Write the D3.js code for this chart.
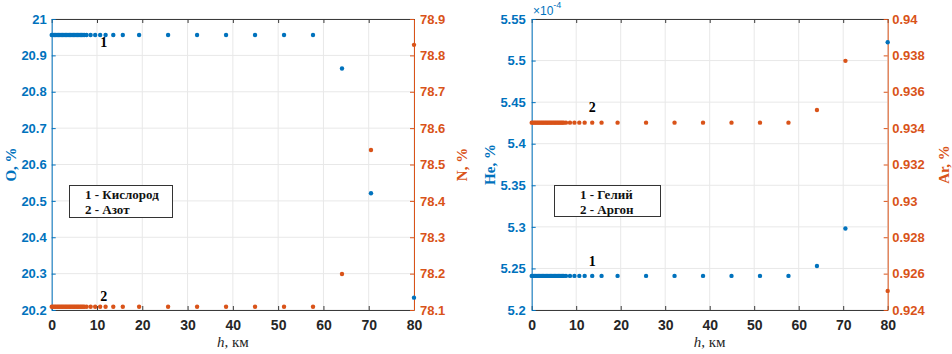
<!DOCTYPE html>
<html lang="ru">
<head>
<meta charset="UTF-8">
<title>Состав воздуха по высоте</title>
<script src="https://cdn.jsdelivr.net/npm/d3@7"></script>
<style>
  body { margin: 0; background: #fff; }
  svg { display: block; }
  .tick text { font-family: "Liberation Sans", Arial, sans-serif; font-size: 13px; font-weight: bold; }
  .serif { font-family: "Liberation Serif", "Times New Roman", serif; }
</style>
</head>
<body>
<script>
// heights, km (same grid for all four series)
const heights = [
  0, 0.3, 0.6, 0.9, 1.2, 1.5, 1.8, 2.1, 2.4, 2.7, 3.0, 3.3, 3.6,
  3.9, 4.2, 4.5, 4.8, 5.1, 5.4, 5.7, 6.0, 6.3, 6.6, 6.9, 7.2,
  7.7, 8.6, 9.6, 10.7, 11.9, 13.6, 15.7, 19.3, 25.7, 32.1, 38.5, 44.9, 51.3, 57.7,
  64.1, 70.5, 80
];
// O, %
const oxygen = [
  20.956, 20.956, 20.956, 20.956, 20.956, 20.956, 20.956, 20.956, 20.956, 20.956, 20.956, 20.956, 20.956,
  20.956, 20.956, 20.956, 20.956, 20.956, 20.956, 20.956, 20.956, 20.956, 20.956, 20.956, 20.956,
  20.956, 20.956, 20.956, 20.956, 20.956, 20.956, 20.956, 20.956, 20.956, 20.956, 20.956, 20.956, 20.956, 20.956,
  20.864, 20.521, 20.234
];
// N, %
const nitrogen = [
  78.109, 78.109, 78.109, 78.109, 78.109, 78.109, 78.109, 78.109, 78.109, 78.109, 78.109, 78.109, 78.109,
  78.109, 78.109, 78.109, 78.109, 78.109, 78.109, 78.109, 78.109, 78.109, 78.109, 78.109, 78.109,
  78.109, 78.109, 78.109, 78.109, 78.109, 78.109, 78.109, 78.109, 78.109, 78.109, 78.109, 78.109, 78.109, 78.109,
  78.199, 78.540, 78.829
];
// He, % (in units of 1e-4)
const helium = [
  5.241, 5.241, 5.241, 5.241, 5.241, 5.241, 5.241, 5.241, 5.241, 5.241, 5.241, 5.241, 5.241,
  5.241, 5.241, 5.241, 5.241, 5.241, 5.241, 5.241, 5.241, 5.241, 5.241, 5.241, 5.241,
  5.241, 5.241, 5.241, 5.241, 5.241, 5.241, 5.241, 5.241, 5.241, 5.241, 5.241, 5.241, 5.241, 5.241,
  5.253, 5.298, 5.522
];
// Ar, %
const argon = [
  0.9343, 0.9343, 0.9343, 0.9343, 0.9343, 0.9343, 0.9343, 0.9343, 0.9343, 0.9343, 0.9343, 0.9343, 0.9343,
  0.9343, 0.9343, 0.9343, 0.9343, 0.9343, 0.9343, 0.9343, 0.9343, 0.9343, 0.9343, 0.9343, 0.9343,
  0.9343, 0.9343, 0.9343, 0.9343, 0.9343, 0.9343, 0.9343, 0.9343, 0.9343, 0.9343, 0.9343, 0.9343, 0.9343, 0.9343,
  0.9350, 0.9377, 0.92505
];

// tick labels
const hTicks = [0, 10, 20, 30, 40, 50, 60, 70, 80];
const oTicks = [20.2, 20.3, 20.4, 20.5, 20.6, 20.7, 20.8, 20.9, 21];
const nTicks = [78.1, 78.2, 78.3, 78.4, 78.5, 78.6, 78.7, 78.8, 78.9];
const heTicks = [5.2, 5.25, 5.3, 5.35, 5.4, 5.45, 5.5, 5.55];
const arTicks = [0.924, 0.926, 0.928, 0.93, 0.932, 0.934, 0.936, 0.938, 0.94];

const legendO = ["1 - Кислород", "2 - Азот"];
const legendHe = ["1 - Гелий", "2 - Аргон"];

const blue = "#0072BD", orange = "#D95319", axisCol = "#3a3a3a", gridCol = "#e8e8e8";
const plotTop = 19, plotBottom = 310;

const svg = d3.select("body").append("svg").attr("width", 952).attr("height", 354);

function drawPanel(p) {
  const g = svg.append("g");
  const x = d3.scaleLinear().domain([0, 80]).range([p.left, p.right]);
  const yL = d3.scaleLinear().domain(d3.extent(p.leftTicks)).range([plotBottom, plotTop]);
  const yR = d3.scaleLinear().domain(d3.extent(p.rightTicks)).range([plotBottom, plotTop]);

  // grid
  g.append("g").selectAll("line").data(hTicks).join("line")
    .attr("x1", d => x(d)).attr("x2", d => x(d)).attr("y1", plotTop).attr("y2", plotBottom)
    .attr("stroke", gridCol);
  g.append("g").selectAll("line").data(p.leftTicks).join("line")
    .attr("x1", p.left).attr("x2", p.right).attr("y1", d => yL(d)).attr("y2", d => yL(d))
    .attr("stroke", gridCol);

  // x axes
  const xb = g.append("g").attr("transform", `translate(0,${plotBottom})`)
    .call(d3.axisBottom(x).tickValues(hTicks).tickSizeInner(-4).tickSizeOuter(0).tickPadding(10));
  const xt = g.append("g").attr("transform", `translate(0,${plotTop})`)
    .call(d3.axisTop(x).tickValues(hTicks).tickSizeInner(-4).tickSizeOuter(0).tickFormat(""));
  [xb, xt].forEach(a => {
    a.select(".domain").attr("stroke", axisCol);
    a.selectAll(".tick line").attr("stroke", axisCol);
    a.selectAll(".tick text").attr("fill", "#262626").style("font-size", "14px");
  });

  // y axes
  const al = g.append("g").attr("transform", `translate(${p.left},0)`)
    .call(d3.axisLeft(yL).tickValues(p.leftTicks).tickSizeInner(-4).tickSizeOuter(0)
      .tickPadding(p.padL).tickFormat(d => String(d)));
  al.select(".domain").attr("stroke", blue);
  al.selectAll(".tick line").attr("stroke", blue);
  al.selectAll(".tick text").attr("fill", blue);

  const ar = g.append("g").attr("transform", `translate(${p.right},0)`)
    .call(d3.axisRight(yR).tickValues(p.rightTicks).tickSizeInner(-4).tickSizeOuter(0)
      .tickPadding(p.padR).tickFormat(d => String(d)));
  ar.select(".domain").attr("stroke", orange);
  ar.selectAll(".tick line").attr("stroke", orange);
  ar.selectAll(".tick text").attr("fill", orange);

  // points
  g.append("g").selectAll("circle").data(heights).join("circle")
    .attr("cx", d => x(d)).attr("cy", (d, i) => yL(p.leftData[i])).attr("r", 2.2).attr("fill", blue);
  g.append("g").selectAll("circle").data(heights).join("circle")
    .attr("cx", d => x(d)).attr("cy", (d, i) => yR(p.rightData[i])).attr("r", 2.2).attr("fill", orange);

  // series numbers
  g.append("text").attr("class", "serif").attr("x", x(p.num1[0])).attr("y", yL(p.num1[1]))
    .attr("text-anchor", "middle").attr("font-weight", "bold").attr("font-size", 14).text("1");
  g.append("text").attr("class", "serif").attr("x", x(p.num2[0])).attr("y", yR(p.num2[1]))
    .attr("text-anchor", "middle").attr("font-weight", "bold").attr("font-size", 14).text("2");

  // legend box
  g.append("rect").attr("x", p.box[0] + 0.5).attr("y", p.box[1] + 0.5)
    .attr("width", p.box[2]).attr("height", p.box[3])
    .attr("fill", "#fff").attr("stroke", "#333");
  g.append("g").selectAll("text").data(p.legend).join("text")
    .attr("class", "serif").attr("x", p.box[4]).attr("y", (d, i) => p.box[1] + 14 + i * 14.5)
    .attr("font-weight", "bold").attr("font-size", 13).attr("fill", "#111").text(d => d);

  // axis titles
  const xTitle = g.append("text").attr("class", "serif")
    .attr("x", (p.left + p.right) / 2).attr("y", 347).attr("text-anchor", "middle")
    .attr("font-size", 15).attr("fill", "#262626");
  xTitle.append("tspan").attr("font-style", "italic").text("h");
  xTitle.append("tspan").text(", км");

  g.append("text").attr("class", "serif")
    .attr("transform", `translate(${p.titleL},${(plotTop + plotBottom) / 2}) rotate(-90)`)
    .attr("text-anchor", "middle").attr("font-weight", "bold").attr("font-size", 15)
    .attr("fill", blue).text(p.labelL);
  g.append("text").attr("class", "serif")
    .attr("transform", `translate(${p.titleR},${(plotTop + plotBottom) / 2}) rotate(-90)`)
    .attr("text-anchor", "middle").attr("font-weight", "bold").attr("font-size", 15)
    .attr("fill", orange).text(p.labelR);
  return g;
}

drawPanel({
  left: 51.7, right: 414,
  leftTicks: oTicks, rightTicks: nTicks, leftData: oxygen, rightData: nitrogen,
  padL: 5, padR: 6,
  num1: [11.5, 20.923], num2: [11.5, 78.125],
  box: [69, 185, 103, 32, 85], legend: legendO,
  titleL: 16, titleR: 467, labelL: "O, %", labelR: "N, %"
});

const rightPanel = drawPanel({
  left: 531.7, right: 887.7,
  leftTicks: heTicks, rightTicks: arTicks, leftData: helium, rightData: argon,
  padL: 6, padR: 4.5,
  num1: [13.6, 5.2529], num2: [13.6, 0.93486],
  box: [554, 185, 106, 31, 580], legend: legendHe,
  titleL: 495, titleR: 949, labelL: "He, %", labelR: "Ar, %"
});

// exponent note over the He axis
const ex = rightPanel.append("text").attr("x", 533).attr("y", 15)
  .attr("font-family", "Liberation Sans, Arial, sans-serif").attr("font-size", 12).attr("fill", blue);
ex.append("tspan").text("×10");
ex.append("tspan").attr("dy", -7).attr("font-size", 9).text("-4");
</script>
</body>
</html>
